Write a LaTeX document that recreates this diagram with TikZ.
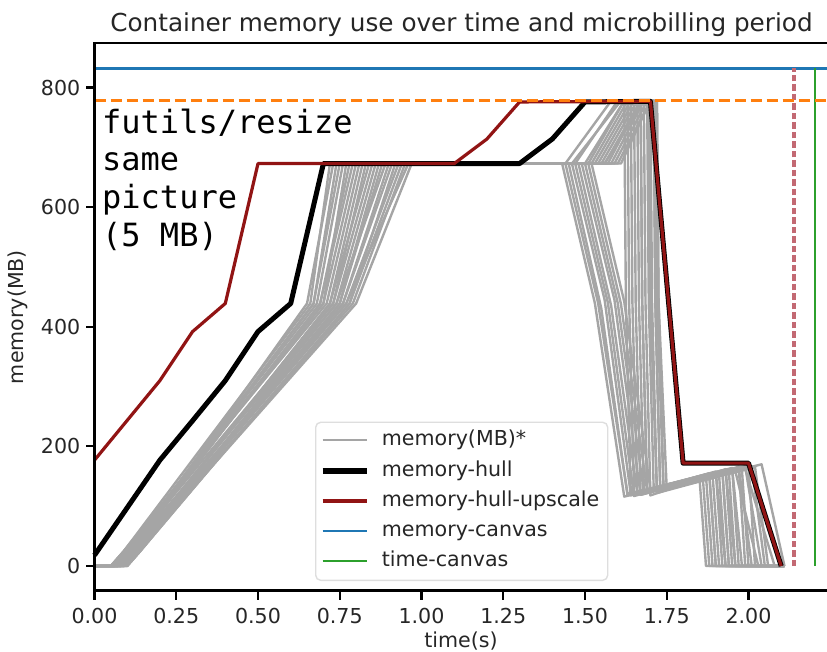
\documentclass[tikz,border=0pt]{standalone}
\usepackage{fontspec}
\setmainfont{DejaVu Sans}
\newfontfamily\codefont{DejaVu Sans Mono}
\definecolor{traceGray}{RGB}{165,165,165}
\definecolor{hullRed}{RGB}{145,20,20}
\definecolor{canvasBlue}{RGB}{31,119,180}
\definecolor{limitOrange}{RGB}{255,127,14}
\definecolor{timeGreen}{RGB}{44,160,44}
\definecolor{periodRed}{RGB}{195,105,115}
\definecolor{inkGray}{RGB}{38,38,38}
\definecolor{frameGray}{RGB}{222,222,222}
\begin{document}
\begin{tikzpicture}[x=1pt,y=1pt,
  spine/.style={line width=2.4pt, black, line cap=rect},
  tickmark/.style={line width=2.2pt, black},
  ticklabel/.style={font=\fontsize{20.6}{24}\selectfont, text=inkGray, inner sep=0pt},
  axislabel/.style={font=\fontsize{20.6}{24}\selectfont, text=inkGray, inner sep=0pt},
  trace/.style={traceGray, line width=2.4pt, line join=round},
  hull/.style={black, line width=5pt, line join=round},
  upscale/.style={hullRed, line width=3.2pt, line join=round},
  memcanvas/.style={canvasBlue, line width=2.6pt},
  memlimit/.style={limitOrange, line width=3pt, dash pattern=on 11pt off 5pt},
  periodline/.style={periodRed, line width=3.2pt, dash pattern=on 6.5pt off 3pt},
  timecanvas/.style={timeGreen, line width=2.4pt},
  legendtext/.style={font=\fontsize{20.6}{24}\selectfont, text=inkGray, inner sep=0pt, anchor=base west},
  codetext/.style={font=\codefont\fontsize{32}{38}\selectfont, inner sep=0pt, anchor=base west}
]
\useasboundingbox (0,0) rectangle (827,651);

% data frame: time in s along x, memory in MB along y
\begin{scope}[shift={(94.5,85)}, x=327pt, y=0.598pt]
  % individual runs
  \foreach \va/\vb/\vc/\vd/\ve/\vf/\vg/\vh/\vi/\vj/\vk/\vl/\vm/\vn in {
    .05/.66/.72/1.44/1.58/778/1.62/1.625/440/1.64/118/1.86/150/1.88,
    .06/.67/.74/1.47/1.60/778/1.64/1.645/440/1.66/122/1.88/155/1.90,
    .07/.69/.78/1.50/1.62/778/1.66/1.665/440/1.68/125/1.90/158/1.92,
    .06/.70/.80/1.52/1.63/778/1.67/1.675/440/1.69/128/1.92/160/1.94,
    .08/.72/.84/1.54/1.65/778/1.68/1.685/440/1.70/118/1.93/162/1.95,
    .07/.74/.86/1.55/1.66/778/1.69/1.695/440/1.71/130/1.95/164/1.97,
    .09/.75/.88/1.56/1.67/778/1.70/1.705/440/1.72/124/1.97/166/1.99,
    .08/.76/.90/1.58/1.68/778/1.71/1.715/440/1.73/132/1.98/160/2.00,
    .10/.78/.92/1.59/1.69/778/1.715/1.72/440/1.74/135/2.00/168/2.02,
    .09/.79/.95/1.60/1.70/778/1.72/1.725/440/1.75/128/2.02/165/2.06,
    .06/.68/.76/1.46/1.61/778/1.63/1.635/440/1.65/120/1.85/148/1.87,
    .08/.73/.83/1.53/1.64/778/1.67/1.675/440/1.69/126/1.96/158/2.03,
    .07/.77/.93/1.57/1.67/778/1.695/1.70/440/1.72/122/1.99/162/2.08,
    .05/.71/.81/1.51/1.62/778/1.65/1.655/440/1.67/119/1.91/152/1.93,
    .09/.80/.97/1.61/1.70/778/1.72/1.725/440/1.74/130/2.04/170/2.11,
    .10/.75/.87/1.56/1.68/778/1.71/1.715/440/1.73/125/1.94/157/1.96,
    .06/.67/.75/1.43/1.43/673/1.43/1.53/440/1.62/116/1.87/150/1.89,
    .07/.69/.79/1.45/1.45/673/1.45/1.55/430/1.63/118/1.89/154/1.91,
    .08/.72/.82/1.46/1.46/673/1.46/1.56/445/1.64/120/1.90/156/1.93,
    .05/.70/.77/1.47/1.47/673/1.47/1.57/440/1.65/117/1.92/158/1.94,
    .09/.74/.89/1.48/1.48/673/1.48/1.58/435/1.66/122/1.93/160/1.96,
    .08/.76/.91/1.49/1.49/673/1.49/1.59/445/1.67/119/1.95/163/1.98,
    .10/.78/.94/1.50/1.50/673/1.50/1.60/440/1.68/124/1.97/165/2.01,
    .07/.65/.73/1.44/1.44/673/1.44/1.54/440/1.63/121/1.88/152/1.90,
    .06/.73/.85/1.51/1.51/673/1.51/1.61/438/1.69/126/1.99/166/2.04,
    .09/.77/.96/1.52/1.52/673/1.52/1.62/442/1.70/128/2.01/167/2.05}
  {
    \draw[trace] (0,0) -- (\va,0) -- ({\va+0.04},25) -- (\vb,439) -- (\vc,673)
      -- (\vd,673) -- (\ve,\vf) -- (\vg,\vf) -- (\vh,\vi) -- (\vj,\vk)
      -- (\vl,\vm) -- (\vn,0) -- (2.11,0);
  }

  % envelope of the runs and its shifted copy
  \draw[hull] (0,18) -- (0.2,177) -- (0.3,243) -- (0.4,310) -- (0.5,392)
    -- (0.6,439) -- (0.7,673) -- (1.3,673) -- (1.4,714) -- (1.5,776)
    -- (1.7,777) -- (1.8,172) -- (2.0,172) -- (2.1,0);
  \draw[upscale] (0,177) -- (0.2,310) -- (0.3,392) -- (0.4,439) -- (0.5,673)
    -- (1.1,673) -- (1.2,714) -- (1.3,776) -- (1.7,777) -- (1.8,172)
    -- (2.0,172) -- (2.1,0);

  % canvas limits
  \draw[memcanvas] (0,832) -- (2.245,832);
  \draw[timecanvas] (2.203,0) -- (2.203,832);
  \draw[periodline] (2.139,0) -- (2.139,832);
  \draw[memlimit] (0,778) -- (2.245,778);

  % spines
  \draw[spine] (2.245,874.2) -- (0,874.2) -- (0,-41.3) -- (2.245,-41.3);

  % y ticks
  \foreach \v in {0,200,400,600,800} {
    \draw[tickmark] (0,\v) -- ++(-9pt,0pt);
    \node[ticklabel, anchor=east] (ytick\v) at ([xshift=-14pt]0,\v) {\v};
  }
  % x ticks
  \foreach \t/\s in {0/0.00,0.25/0.25,0.5/0.50,0.75/0.75,1/1.00,1.25/1.25,1.5/1.50,1.75/1.75,2/2.00} {
    \draw[tickmark] (\t,-41.3) -- ++(0pt,-9pt);
    \node[ticklabel, anchor=base] (xtick\s) at ([yshift=-32.5pt]\t,-41.3) {\s};
  }
\end{scope}

% axis labels and title
\node[axislabel, anchor=base] (xlabel) at (461,4) {time(s)};
\node[axislabel, rotate=90] (ylabel) at (18,334) {memory(MB)};
\node[font=\fontsize{24.7}{29}\selectfont, text=inkGray, inner sep=0pt, anchor=base] (title)
  at (461.5,619.5) {Container memory use over time and microbilling period};

% annotation
\node[codetext] (note1) at (102,517.7) {futils/resize};
\node[codetext] (note2) at (102,480.1) {same};
\node[codetext] (note3) at (102,442.5) {picture};
\node[codetext] (note4) at (102,404.9) {(5 MB)};

% legend
\node[draw=frameGray, line width=1.4pt, fill=white, fill opacity=0.8, rounded corners=5pt,
  minimum width=292pt, minimum height=158pt, anchor=south west, inner sep=0pt] (legendbox) at (315,70) {};
\coordinate (s1) at (322.7,211);
\coordinate (s2) at (322.7,180);
\coordinate (s3) at (322.7,150);
\coordinate (s4) at (322.7,120);
\coordinate (s5) at (322.7,90.3);
\draw[trace] (s1) -- ++(44,0);
\draw[hull] (s2) -- ++(44,0);
\draw[upscale] (s3) -- ++(44,0);
\draw[memcanvas] (s4) -- ++(44,0);
\draw[timecanvas] (s5) -- ++(44,0);
\node[legendtext] (l1) at ([xshift=59pt,yshift=-5.6pt]s1) {memory(MB)*};
\node[legendtext] (l2) at ([xshift=59pt,yshift=-5.6pt]s2) {memory-hull};
\node[legendtext] (l3) at ([xshift=59pt,yshift=-5.6pt]s3) {memory-hull-upscale};
\node[legendtext] (l4) at ([xshift=59pt,yshift=-5.6pt]s4) {memory-canvas};
\node[legendtext] (l5) at ([xshift=59pt,yshift=-5.6pt]s5) {time-canvas};
\end{tikzpicture}
\end{document}
